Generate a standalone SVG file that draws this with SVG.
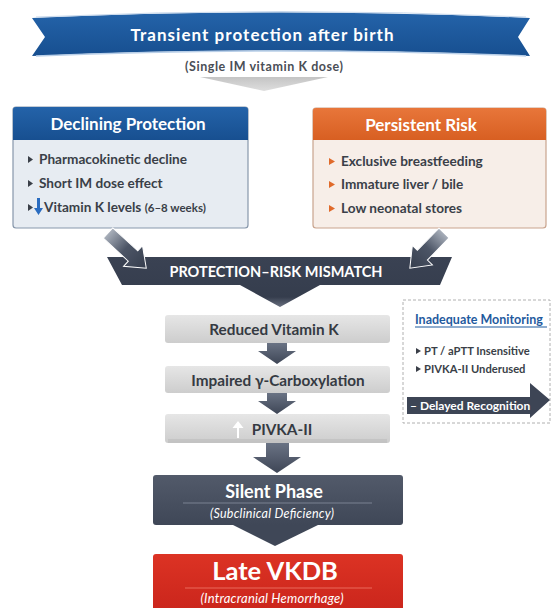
<svg xmlns="http://www.w3.org/2000/svg" width="552" height="608" viewBox="0 0 552 608">
<defs>
<linearGradient id="gBlue" x1="0" y1="0" x2="0" y2="1"><stop offset="0" stop-color="#2463a9"/><stop offset="1" stop-color="#174f90"/></linearGradient>
<linearGradient id="gOrange" x1="0" y1="0" x2="0" y2="1"><stop offset="0" stop-color="#e8763a"/><stop offset="1" stop-color="#d85f22"/></linearGradient>
<linearGradient id="gGrey" x1="0" y1="0" x2="0" y2="1"><stop offset="0" stop-color="#e6e6e6"/><stop offset="1" stop-color="#cdcdcd"/></linearGradient>
<linearGradient id="gTri" x1="0" y1="0" x2="0" y2="1"><stop offset="0" stop-color="#c4c4c4"/><stop offset="1" stop-color="#dedede"/></linearGradient>
<linearGradient id="gSlate" x1="0" y1="0" x2="0" y2="1"><stop offset="0" stop-color="#525a6a"/><stop offset="1" stop-color="#3f4757"/></linearGradient>
<linearGradient id="gBanner" x1="0" y1="0" x2="0" y2="1"><stop offset="0" stop-color="#3a4253"/><stop offset="0.8" stop-color="#353d4d"/><stop offset="1" stop-color="#6a7080"/></linearGradient>
<linearGradient id="gArrow" x1="0" y1="0" x2="1" y2="0"><stop offset="0" stop-color="#aab1bc"/><stop offset="0.45" stop-color="#4c5566"/><stop offset="1" stop-color="#363e4e"/></linearGradient>
<linearGradient id="gDown" x1="0" y1="0" x2="0" y2="1"><stop offset="0" stop-color="#6a7384"/><stop offset="1" stop-color="#3e4656"/></linearGradient>
<linearGradient id="gRed" x1="0" y1="0" x2="0" y2="1"><stop offset="0" stop-color="#dc3324"/><stop offset="1" stop-color="#c9241b"/></linearGradient>
<style>
text{font-family:Lato,"Open Sans","Liberation Sans",sans-serif;}
.hdr{font-size:17px;font-weight:700;fill:#fff;text-anchor:middle;}
.item{font-size:13.6px;font-weight:700;fill:#3a3f48;}
.flow{font-size:15.3px;font-weight:700;fill:#353a42;text-anchor:middle;}
.mon{font-size:11.2px;font-weight:700;fill:#3a3f48;}
.it{font-style:italic;fill:#fff;text-anchor:middle;}
</style>
</defs>
<rect width="552" height="608" fill="#ffffff"/>

<g id="title">
<path d="M32,18 Q281,7 530,18 L518,37 L530,56 Q281,45 32,56 L45,37 Z" fill="url(#gBlue)"/>
<path d="M36,56 Q281,46 526,56" fill="none" stroke="#b9cfe8" stroke-width="1.5"/>
<path d="M36,17 Q281,6 526,17" fill="none" stroke="#c9d9ec" stroke-width="1"/>
<text x="262" y="41" class="hdr" font-size="20" textLength="263" lengthAdjust="spacing">Transient protection after birth</text>
<text x="264" y="71" font-size="12.5" font-weight="700" fill="#4a4e56" text-anchor="middle" textLength="158" lengthAdjust="spacing">(Single IM vitamin K dose)</text>
<polygon points="200,77 328,77 264,91" fill="url(#gTri)"/>
</g>

<g id="declining">
<rect x="13" y="107" width="235" height="121" rx="3" fill="#e7ecf2" stroke="#8797ab" stroke-width="1.2"/>
<path d="M13,140 V110 a3,3 0 0 1 3,-3 H245 a3,3 0 0 1 3,3 V140 Z" fill="url(#gBlue)"/>
<text x="128" y="130" class="hdr">Declining Protection</text>
<polygon points="28,156 33,159.5 28,163" fill="#3a3f48"/>
<text x="39" y="164" class="item">Pharmacokinetic decline</text>
<polygon points="28,180 33,183.5 28,187" fill="#3a3f48"/>
<text x="39" y="188" class="item">Short IM dose effect</text>
<polygon points="28,204 33,207.5 28,211" fill="#3a3f48"/>
<path d="M37,198 h3 v10 h3 l-4.5,7 l-4.5,-7 h3 Z" fill="#2a6cc0"/>
<text x="44" y="212" class="item">Vitamin K levels <tspan font-size="11.5">(6–8 weeks)</tspan></text>
</g>

<g id="persistent">
<rect x="313" y="108" width="233" height="120" rx="3" fill="#f7eee8" stroke="#c9a48e" stroke-width="1.2"/>
<path d="M313,140 V111 a3,3 0 0 1 3,-3 H543 a3,3 0 0 1 3,3 V140 Z" fill="url(#gOrange)"/>
<text x="421" y="131" class="hdr">Persistent Risk</text>
<polygon points="329,158 335,161.5 329,165" fill="#e06a2a"/>
<text x="341" y="166" class="item">Exclusive breastfeeding</text>
<polygon points="329,181 335,184.5 329,188" fill="#e06a2a"/>
<text x="341" y="189" class="item">Immature liver / bile</text>
<polygon points="329,205 335,208.5 329,212" fill="#e06a2a"/>
<text x="341" y="213" class="item">Low neonatal stores</text>
</g>

<g id="mismatch">
<path d="M107,257 L452,257 L440,285 L320,285 L280,307 L240,285 L122,285 Z" fill="url(#gBanner)"/>
<text x="276" y="277" font-size="14.5" font-weight="700" fill="#fff" text-anchor="middle">PROTECTION–RISK MISMATCH</text>
</g>

<g id="flow1">
<rect x="165" y="315" width="225" height="28" rx="3" fill="url(#gGrey)"/>
<text x="274" y="335" class="flow">Reduced Vitamin K</text>
</g>
<g id="flow2">
<rect x="165" y="366" width="225" height="27" rx="3" fill="url(#gGrey)"/>
<text x="278" y="386" class="flow">Impaired γ-Carboxylation</text>
</g>
<g id="flow3">
<rect x="165" y="414" width="225" height="29" rx="3" fill="url(#gGrey)"/>
<rect x="168" y="439" width="219" height="4" fill="#bdbdbd" opacity="0.6"/>
<path d="M237,428 h-4.5 l5.5,-7 l5.5,7 h-4.5 v10 h-2 Z" fill="#ffffff"/>
<text x="282" y="435" class="flow">PIVKA-II</text>
</g>

<g id="silent">
<rect x="153" y="475" width="250" height="50" rx="3" fill="url(#gSlate)"/>
<line x1="183" y1="503" x2="372" y2="503" stroke="#7a8292" stroke-width="1"/>
<text x="274" y="498" font-size="18" font-weight="700" fill="#fff" text-anchor="middle">Silent Phase</text>
<text x="272" y="518" class="it" font-size="12.5" textLength="124" lengthAdjust="spacing">(Subclinical Deficiency)</text>
</g>

<g id="vkdb">
<rect x="153" y="554" width="250" height="62" rx="3" fill="url(#gRed)"/>
<line x1="185" y1="588" x2="372" y2="588" stroke="#ea6a5c" stroke-width="1"/>
<text x="275" y="580" font-size="25.5" font-weight="700" fill="#fff" text-anchor="middle">Late VKDB</text>
<text x="272" y="603" class="it" font-size="13" textLength="143" lengthAdjust="spacing">(Intracranial Hemorrhage)</text>
</g>

<g id="monitoring">
<rect x="403" y="300" width="147" height="123" fill="#ffffff" stroke="#b0b0b0" stroke-width="1" stroke-dasharray="3 2"/>
<text x="415" y="324" font-size="12.5" font-weight="700" fill="#1f5a9e">Inadequate Monitoring</text>
<line x1="415" y1="327" x2="547" y2="327" stroke="#1f5a9e" stroke-width="1"/>
<polygon points="416,348 421,351 416,354" fill="#3a3f48"/>
<text x="424" y="355" class="mon">PT / aPTT Insensitive</text>
<polygon points="416,366 421,369 416,372" fill="#3a3f48"/>
<text x="424" y="373" class="mon">PIVKA-II Underused</text>
<polygon points="407,397 530,397 530,383 550,400 530,418 530,414 407,414" fill="#3d4555"/>
<text x="410" y="410" font-size="12" font-weight="700" fill="#fff">– Delayed Recognition</text>
</g>

<g id="connectors">
<g transform="translate(108,233) rotate(42.6)">
<polygon points="0,-7 34,-7 34,-14 52,0 34,14 34,7 0,7" fill="url(#gArrow)" stroke="#ffffff" stroke-width="1"/>
</g>
<g transform="translate(444,233) rotate(134.2)">
<polygon points="0,-7 31,-7 31,-14 49,0 31,14 31,7 0,7" fill="url(#gArrow)" stroke="#ffffff" stroke-width="1"/>
</g>
<polygon points="267,343 287,343 287,351 296,351 277,364 258,351 267,351" fill="url(#gDown)"/>
<polygon points="267,393 287,393 287,401 296,401 277,414 258,401 267,401" fill="url(#gDown)"/>
<polygon points="266,443 289,443 289,457 301,457 277,473 253,457 266,457" fill="url(#gDown)"/>
<polygon points="233,525 318,525 275,546" fill="#3f4757"/>
</g>
</svg>
